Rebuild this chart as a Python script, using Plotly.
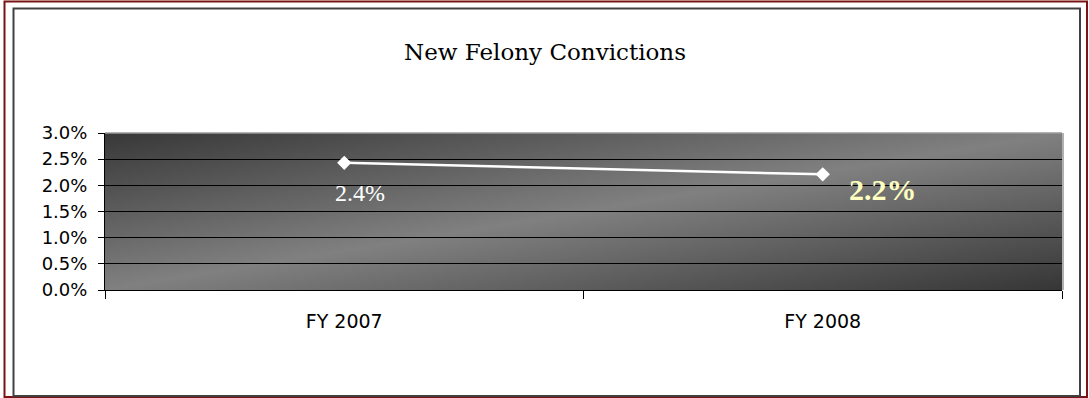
import base64
import plotly.graph_objects as go

# Data
categories = ["FY 2007", "FY 2008"]
conviction_rate = [2.43, 2.21]  # percent
point_labels = ["2.4%", "2.2%"]
y_ticks = [0.0, 0.5, 1.0, 1.5, 2.0, 2.5, 3.0]
y_tick_labels = [f"{v:.1f}%" for v in y_ticks]

W, H = 1089, 398
ML, MR, MT, MB = 105, 27, 133, 108
PW, PH = W - ML - MR, H - MT - MB


def px_x(px):
    return (px - ML) / PW


def px_y(py):
    return (H - MB - py) / PH


# Diagonal grey gradient used as the plot-area fill
svg = (
    '<svg xmlns="http://www.w3.org/2000/svg" width="957" height="157" '
    'preserveAspectRatio="none" viewBox="0 0 957 157">'
    '<defs><linearGradient id="g" x1="0" y1="0" x2="1" y2="1">'
    '<stop offset="0" stop-color="#383838"/>'
    '<stop offset="0.5" stop-color="#808080"/>'
    '<stop offset="1" stop-color="#363636"/>'
    '</linearGradient></defs>'
    '<rect width="957" height="157" fill="url(#g)"/></svg>'
)
svg_uri = "data:image/svg+xml;base64," + base64.b64encode(svg.encode()).decode()

fig = go.Figure()

fig.add_trace(go.Scatter(
    x=categories,
    y=conviction_rate,
    mode="lines+markers",
    line=dict(color="white", width=2.5),
    marker=dict(symbol="diamond", size=11, color="white"),
    hoverinfo="skip",
    showlegend=False,
))

# Value labels
fig.add_annotation(
    x=categories[0], y=conviction_rate[0], text=point_labels[0],
    showarrow=False, xshift=16, yshift=-30,
    font=dict(family="Liberation Serif", size=24, color="white"),
)
fig.add_annotation(
    x=categories[1], y=conviction_rate[1], text="<b>" + point_labels[1] + "</b>",
    showarrow=False, xshift=60, yshift=-15,
    font=dict(family="Liberation Serif", size=30, color="#ffffc0"),
)

shapes = [
    # outer dark red frame
    dict(type="rect", xref="paper", yref="paper",
         x0=px_x(4.5), x1=px_x(1087), y0=px_y(397), y1=px_y(1.5),
         line=dict(color="#7a1414", width=2), fillcolor="rgba(0,0,0,0)", layer="below"),
    # inner grey frame
    dict(type="rect", xref="paper", yref="paper",
         x0=px_x(13.5), x1=px_x(1080), y0=px_y(396), y1=px_y(8.5),
         line=dict(color="#404040", width=2), fillcolor="rgba(0,0,0,0)", layer="below"),
    # light bevel on the plot area's top and right edges
    dict(type="line", xref="paper", yref="paper",
         x0=0, x1=1, y0=1, y1=1, line=dict(color="#9a9a9a", width=1.5)),
    dict(type="line", xref="paper", yref="paper",
         x0=px_x(1063), x1=px_x(1063), y0=0, y1=1, line=dict(color="#b0b0b0", width=2)),
]

fig.update_layout(
    width=W, height=H,
    margin=dict(l=ML, r=MR, t=MT, b=MB),
    paper_bgcolor="white",
    plot_bgcolor="rgba(0,0,0,0)",
    title=dict(
        text="New Felony Convictions",
        x=545 / W, xref="container", xanchor="center",
        y=1 - 52 / H, yref="container", yanchor="middle",
        font=dict(family="DejaVu Serif", size=23, color="black"),
    ),
    images=[dict(
        source=svg_uri, xref="paper", yref="paper",
        x=0, y=1, sizex=1, sizey=1, xanchor="left", yanchor="top",
        sizing="stretch", layer="below",
    )],
    shapes=shapes,
    xaxis=dict(
        type="category",
        range=[-0.5, 1.5],
        showgrid=False,
        showline=True, linecolor="black", linewidth=1,
        ticks="outside", tickson="boundaries", ticklen=8, tickcolor="black",
        ticklabelstandoff=14,
        tickfont=dict(family="DejaVu Sans", size=19, color="black"),
        zeroline=False,
    ),
    yaxis=dict(
        range=[0, 3.0],
        tickvals=y_ticks, ticktext=y_tick_labels,
        showgrid=True, gridcolor="black", gridwidth=1,
        showline=True, linecolor="black", linewidth=1,
        ticks="outside", ticklen=6, tickcolor="black",
        ticklabelstandoff=7,
        tickfont=dict(family="DejaVu Sans", size=18, color="black"),
        zeroline=False,
    ),
)

fig.write_html("out.html")
